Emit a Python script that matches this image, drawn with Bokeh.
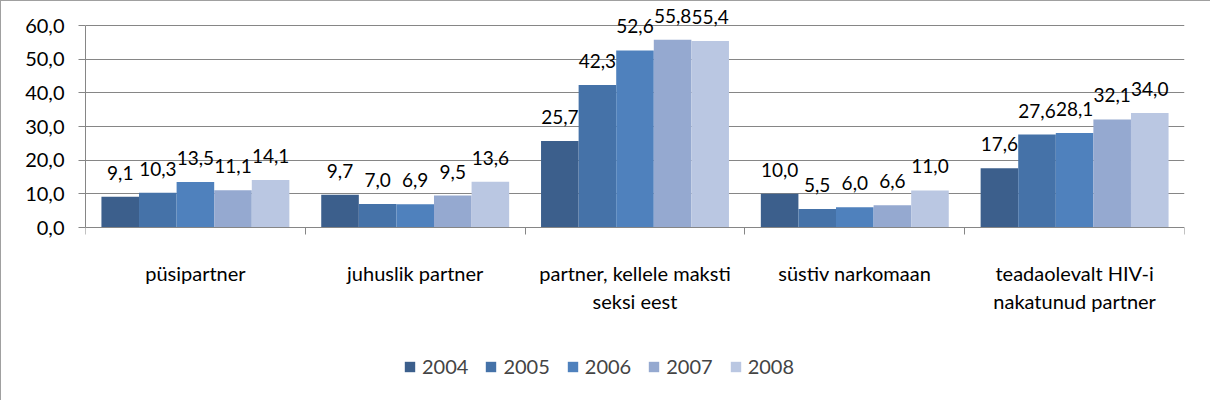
from bokeh.plotting import figure
from bokeh.models import ColumnDataSource, FixedTicker, LabelSet, Legend, LegendItem, Range1d, LinearAxis
from bokeh.core.properties import value
from bokeh.embed import file_html
from bokeh.resources import INLINE

categories = ["püsipartner", "juhuslik partner", "partner, kellele maksti\nseksi eest",
              "süstiv narkomaan", "teadaolevalt HIV-i\nnakatunud partner"]
years = ["2004", "2005", "2006", "2007", "2008"]
v2004 = [9.1, 9.7, 25.7, 10.0, 17.6]
v2005 = [10.3, 7.0, 42.3, 5.5, 27.6]
v2006 = [13.5, 6.9, 52.6, 6.0, 28.1]
v2007 = [11.1, 9.5, 55.8, 6.6, 32.1]
v2008 = [14.1, 13.6, 55.4, 11.0, 34.0]
series = [v2004, v2005, v2006, v2007, v2008]
colors = ["#3C5F8C", "#4572A8", "#4F81BD", "#95A9D0", "#BAC7E2"]
yticks = [0, 10, 20, 30, 40, 50, 60]

FONT = "Lato"
PX_PER_UNIT = 202 / 60.0
Y_END = 60 + 20 / PX_PER_UNIT
Y_START = -173 / PX_PER_UNIT

p = figure(frame_width=1099, frame_height=395, output_backend="svg", toolbar_location=None,
           x_range=Range1d(0, 5), y_range=Range1d(Y_START, Y_END),
           x_axis_location=None,
           min_border_left=84, min_border_right=26, min_border_top=4, min_border_bottom=0,
           styles={"border-left": "1px solid #A0A0A0", "border-top": "1px solid #A0A0A0"})
p.outline_line_color = None

bw = 0.171
items = []
for k, (yr, vals, c) in enumerate(zip(years, series, colors)):
    xs = [i + 0.5 + (k - 2) * bw for i in range(len(categories))]
    src = ColumnDataSource(dict(x=xs, top=vals,
                                lab=[f"{v:.1f}".replace(".", ",") for v in vals]))
    r = p.vbar(x="x", top="top", width=bw, bottom=0, source=src, fill_color=c,
               line_color=None)
    items.append(LegendItem(label=yr, renderers=[r]))
    ls = LabelSet(x="x", y="top", text="lab", source=src, text_align="center",
                  text_baseline="alphabetic", y_offset=17, text_font=value(FONT),
                  text_font_size="19px", text_color="black")
    p.add_layout(ls)

# y axis
p.yaxis.ticker = FixedTicker(ticks=yticks)
p.yaxis.bounds = (0, 60)
p.yaxis.major_label_overrides = {t: f"{t:.1f}".replace(".", ",") for t in yticks}
p.yaxis.axis_line_color = "#868686"
p.yaxis.major_tick_line_color = "#868686"
p.yaxis.major_tick_in = 0
p.yaxis.major_tick_out = 7
p.yaxis.minor_tick_line_color = None
p.yaxis.major_label_text_font = FONT
p.yaxis.major_label_text_font_size = "20px"
p.yaxis.major_label_text_color = "black"
p.yaxis.major_label_standoff = 14

# x axis drawn at y=0: labels at centres, tick marks at category boundaries
xax = LinearAxis(fixed_location=0)
xax.ticker = FixedTicker(ticks=[i + 0.5 for i in range(len(categories))],
                         minor_ticks=list(range(len(categories) + 1)))
xax.major_label_overrides = {i + 0.5: c for i, c in enumerate(categories)}
xax.axis_line_color = "#868686"
xax.major_tick_line_color = None
xax.minor_tick_line_color = "#868686"
xax.minor_tick_in = 0
xax.minor_tick_out = 7
xax.major_tick_out = 7
xax.major_label_text_font = FONT
xax.major_label_text_font_size = "20px"
xax.major_label_text_color = "black"
xax.major_label_standoff = 26
p.add_layout(xax, "below")

p.xgrid.grid_line_color = None
p.ygrid.ticker = FixedTicker(ticks=yticks[1:])
p.ygrid.grid_line_color = "#868686"

legend = Legend(items=items, orientation="horizontal", location=(318, 22),
                label_text_font=FONT, label_text_font_size="20px",
                glyph_width=13, glyph_height=13, spacing=16, label_standoff=6,
                padding=0, border_line_color=None, background_fill_alpha=0, margin=0)
p.add_layout(legend, "center")

open("out.html", "w").write(file_html(p, INLINE))
